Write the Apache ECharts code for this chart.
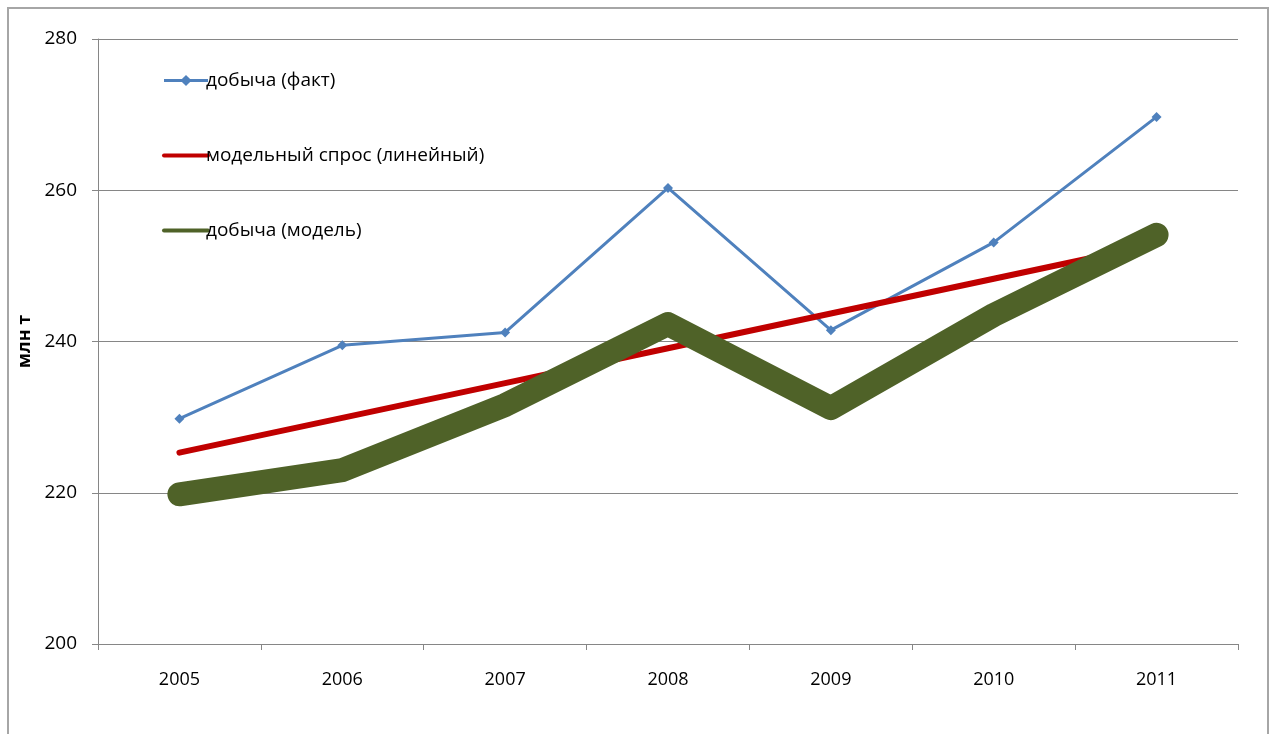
<!DOCTYPE html>
<html>
<head>
<meta charset="utf-8">
<script src="https://cdn.jsdelivr.net/npm/echarts@6/dist/echarts.min.js"></script>
<style>
html,body{margin:0;padding:0;background:#fff;}
#chart{width:1275px;height:734px;}
</style>
</head>
<body>
<div id="chart"></div>
<script>
const years = ['2005','2006','2007','2008','2009','2010','2011'];
const factOutput = [229.8, 239.5, 241.2, 260.3, 241.5, 253.1, 269.7];
const modelDemand = [225.3, 229.9, 234.5, 239.1, 243.7, 248.3, 252.9];
const modelOutput = [219.8, 223.0, 231.6, 242.3, 231.2, 243.5, 254.1];
const yTicks = {min: 200, max: 280, interval: 20};
const names = ['добыча (факт)', 'модельный спрос (линейный)', 'добыча (модель)'];

const font = '"Open Sans", "Noto Sans", sans-serif';
const hideMarker = {color: 'transparent', opacity: 0, borderWidth: 0};
const chart = echarts.init(document.getElementById('chart'), null, {renderer: 'canvas'});
chart.setOption({
  animation: false,
  backgroundColor: '#fff',
  graphic: [{
    type: 'rect', silent: true, z: -1,
    shape: {x: 8, y: 8, width: 1260, height: 740},
    style: {fill: 'none', stroke: '#a6a6a6', lineWidth: 2}
  }],
  grid: {left: 98, right: 37, top: 39, bottom: 90, containLabel: false},
  legend: {
    orient: 'vertical', left: 157, top: 66, itemGap: 56,
    itemWidth: 44, itemHeight: 14,
    textStyle: {fontFamily: font, fontSize: 19, color: '#000', padding: [0,0,0,-7]},
    data: [
      {name: names[0], lineStyle: {width: 3}},
      {name: names[1], lineStyle: {width: 4}, itemStyle: hideMarker},
      {name: names[2], lineStyle: {width: 4}, itemStyle: hideMarker}
    ]
  },
  xAxis: {
    type: 'category', data: years, boundaryGap: true,
    axisLine: {lineStyle: {color: '#868686', width: 1}},
    axisTick: {show: true, interval: 0, length: 6, lineStyle: {color: '#868686'}},
    axisLabel: {fontFamily: font, fontSize: 18, color: '#000', margin: 27},
    splitLine: {show: false}
  },
  yAxis: {
    type: 'value', min: yTicks.min, max: yTicks.max, interval: yTicks.interval,
    name: 'млн т', nameLocation: 'middle', nameRotate: 90, nameGap: 63,
    nameTextStyle: {fontFamily: font, fontSize: 18, fontWeight: 'bold', color: '#000'},
    axisLine: {show: true, lineStyle: {color: '#868686', width: 1}},
    axisTick: {show: true, length: 6, lineStyle: {color: '#868686'}},
    axisLabel: {fontFamily: font, fontSize: 19, color: '#000', margin: 21},
    splitLine: {show: true, lineStyle: {color: '#868686', width: 1}}
  },
  series: [
    {
      name: names[0], type: 'line', data: factOutput,
      symbol: 'diamond', symbolSize: 10,
      itemStyle: {color: '#4F81BD'},
      lineStyle: {color: '#4F81BD', width: 3},
      z: 2
    },
    {
      name: names[1], type: 'line', data: modelDemand,
      symbol: 'none', showSymbol: false,
      itemStyle: {color: '#C00000'},
      lineStyle: {color: '#C00000', width: 6, cap: 'round'},
      z: 3
    },
    {
      name: names[2], type: 'line', data: modelOutput,
      symbol: 'none', showSymbol: false,
      itemStyle: {color: '#4F6228'},
      lineStyle: {color: '#4F6228', width: 24, cap: 'round', join: 'round'},
      z: 4
    }
  ]
});
</script>
</body>
</html>
